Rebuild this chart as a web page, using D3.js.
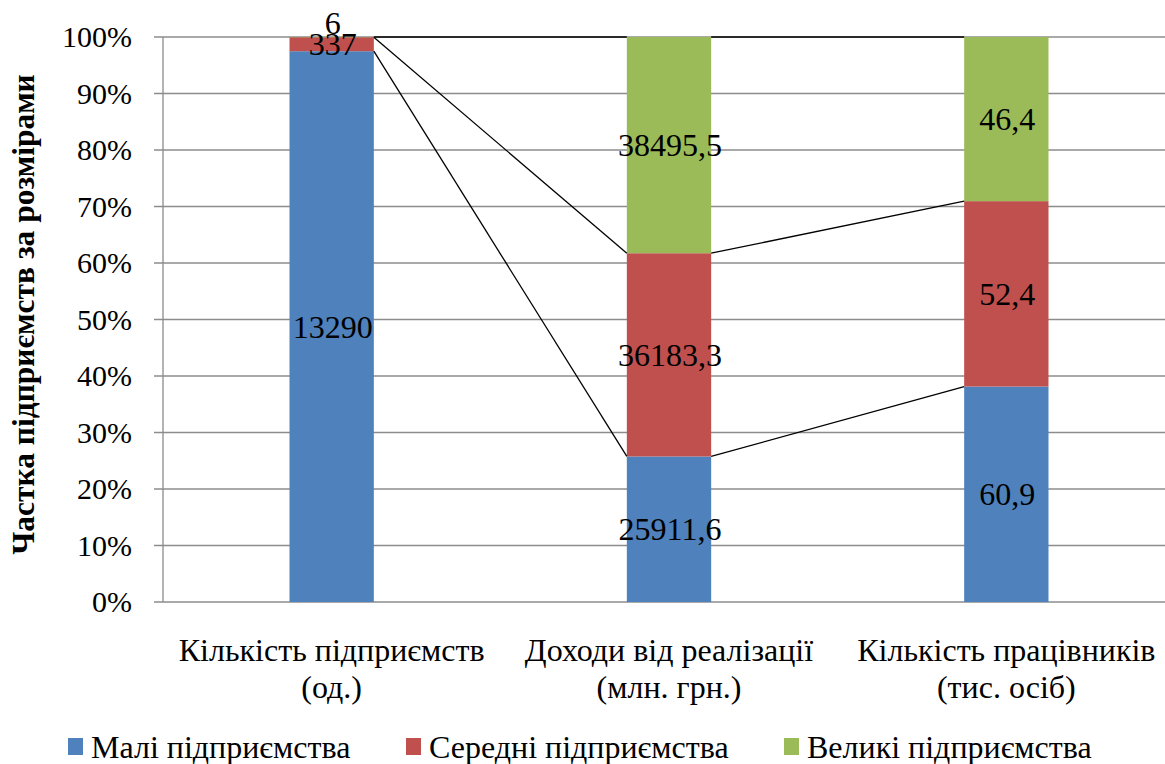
<!DOCTYPE html>
<html>
<head>
<meta charset="utf-8">
<script src="https://cdn.jsdelivr.net/npm/d3@7"></script>
<style>
  body { margin: 0; background: #fff; }
</style>
</head>
<body>
<div id="chart"></div>
<script>
const categories = [
  ["Кількість підприємств", "(од.)"],
  ["Доходи від реалізації", "(млн. грн.)"],
  ["Кількість працівників", "(тис. осіб)"]
];
const seriesNames = ["Малі підприємства", "Середні підприємства", "Великі підприємства"];
const smallValues = [13290, 25911.6, 60.9];
const mediumValues = [337, 36183.3, 52.4];
const largeValues = [6, 38495.5, 46.4];
const yTicks = [0, 0.1, 0.2, 0.3, 0.4, 0.5, 0.6, 0.7, 0.8, 0.9, 1];
const colors = ["#4F81BD", "#C0504D", "#9BBB59"];

const W = 1165, H = 764;
const margin = { top: 37, right: -10, bottom: 162, left: 163 };
const width = W - margin.left - margin.right;
const height = H - margin.top - margin.bottom;
const FONT = "'Liberation Serif', 'Times New Roman', serif";

const rows = categories.map((c, i) => ({
  key: i,
  s0: smallValues[i],
  s1: mediumValues[i],
  s2: largeValues[i]
}));

const stack = d3.stack().keys(["s0", "s1", "s2"]).offset(d3.stackOffsetExpand);
const layers = stack(rows);

const svg = d3.select("#chart").append("svg")
  .attr("width", W).attr("height", H)
  .style("font-family", FONT);
const g = svg.append("g").attr("transform", `translate(${margin.left},${margin.top})`);

const x = d3.scaleBand().domain(rows.map(d => d.key)).range([0, width]).paddingInner(0.75).paddingOuter(0.375);
const y = d3.scaleLinear().domain([0, 1]).range([height, 0]);

// gridlines
g.append("g").selectAll("line").data(yTicks).join("line")
  .attr("x1", -9).attr("x2", width)
  .attr("y1", d => y(d)).attr("y2", d => y(d))
  .attr("stroke", "#8c8c8c").attr("stroke-width", 1.3);

// y axis line
g.append("line").attr("x1", 0).attr("x2", 0).attr("y1", 0).attr("y2", height)
  .attr("stroke", "#8c8c8c").attr("stroke-width", 1.3);

g.append("g").selectAll("text").data(yTicks).join("text")
  .attr("x", -31).attr("y", d => y(d) + 10)
  .attr("text-anchor", "end")
  .style("font-size", "30px")
  .text(d3.format(".0%"));

// bars
layers.forEach((layer, si) => {
  g.append("g").selectAll("rect").data(layer).join("rect")
    .attr("x", d => x(d.data.key))
    .attr("width", x.bandwidth())
    .attr("y", d => y(d[1]))
    .attr("height", d => y(d[0]) - y(d[1]))
    .attr("fill", colors[si]);
});

// series lines
layers.forEach(layer => {
  for (let i = 0; i < layer.length - 1; i++) {
    g.append("line")
      .attr("x1", x(layer[i].data.key) + x.bandwidth())
      .attr("x2", x(layer[i + 1].data.key))
      .attr("y1", y(layer[i][1]))
      .attr("y2", y(layer[i + 1][1]))
      .attr("stroke", "#000").attr("stroke-width", 1.3);
  }
});

// data labels
const fmt = v => String(v).replace(".", ",");
const raw = [smallValues, mediumValues, largeValues];
rows.forEach((r, ci) => {
  let prevY = Infinity;
  layers.forEach((layer, si) => {
    const d = layer[ci];
    let ly = y((d[0] + d[1]) / 2) + 11;
    if (prevY - ly < 21) ly = prevY - 21;
    prevY = ly;
    g.append("text")
      .attr("x", x(r.key) + x.bandwidth() / 2 + 1)
      .attr("y", ly)
      .attr("text-anchor", "middle")
      .style("font-size", "32px")
      .text(fmt(raw[si][ci]));
  });
});

// category labels
categories.forEach((c, i) => {
  const t = g.append("text")
    .attr("x", x(i) + x.bandwidth() / 2)
    .attr("y", height + 59)
    .attr("text-anchor", "middle")
    .style("font-size", "32px");
  c.forEach((line, li) => {
    t.append("tspan").attr("x", x(i) + x.bandwidth() / 2).attr("dy", li ? 37 : 0).text(line);
  });
});

// y axis title
svg.append("text")
  .attr("transform", `translate(34,${margin.top + height / 2 - 5}) rotate(-90)`)
  .attr("text-anchor", "middle")
  .style("font-size", "31.5px").style("font-weight", "bold")
  .text("Частка підприємств за розмірами");

// legend
const legendX = [68, 406, 784];
const legend = svg.append("g");
seriesNames.forEach((name, i) => {
  legend.append("rect").attr("x", legendX[i]).attr("y", 738).attr("width", 15).attr("height", 17).attr("fill", colors[i]);
  legend.append("text").attr("x", legendX[i] + 23).attr("y", 758)
    .style("font-size", "32px").text(name);
});
</script>
</body>
</html>
